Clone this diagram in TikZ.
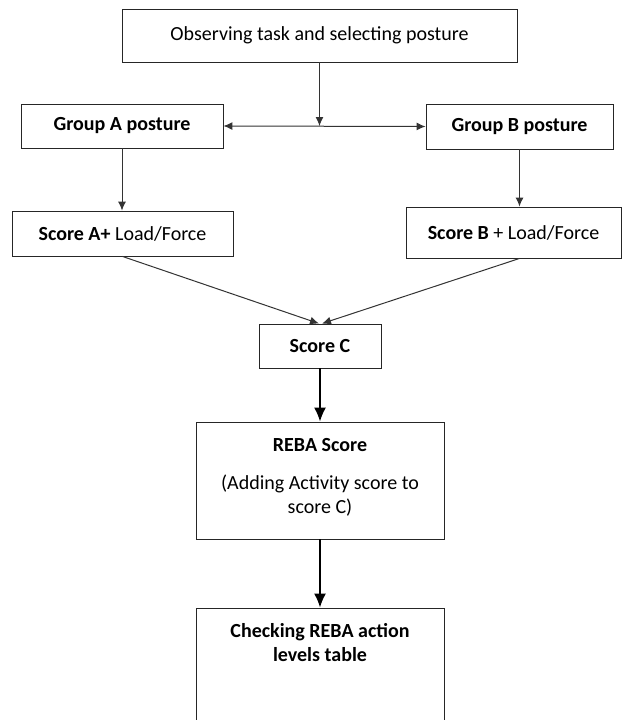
\documentclass[tikz,border=0pt]{standalone}
\usepackage{fontspec}
\setmainfont{Carlito}
\usetikzlibrary{arrows.meta,positioning}

\tikzset{
  box/.style={draw=black!85, line width=0.9pt, rectangle, inner sep=0pt,
    font=\fontsize{20}{24}\selectfont},
  thinarrow/.style={draw=black!80, line width=1pt, -{Latex[length=9pt,width=8pt]}},
  thickarrow/.style={draw=black, line width=1.5pt, -{Latex[length=14pt,width=12pt]}},
  boxtext/.style={align=center, inner sep=0pt, font=\fontsize{20}{24}\selectfont}
}

\begin{document}
\begin{tikzpicture}[x=1pt,y=-1pt]

\clip (0,0) rectangle (622,720);
\fill[white] (0,0) rectangle (622,720);

% boxes
\node[box, minimum width=395pt, minimum height=53pt] (task) at (319.5,35.5) {Observing task and selecting posture};
\node[box, minimum width=202pt, minimum height=44pt] (grpA) at (122,126) {\textbf{Group A posture}};
\node[box, minimum width=187pt, minimum height=45pt] (grpB) at (519.5,126.5) {\textbf{Group B posture}};
\node[box, minimum width=221pt, minimum height=45pt] (scoreA) at (122.5,233.5) {\textbf{Score A+} Load/Force};
\node[box, minimum width=215pt, minimum height=51pt] (scoreB) at (513.5,232.5) {\textbf{Score B} + Load/Force};
\node[box, minimum width=122pt, minimum height=44pt] (scoreC) at (320,346) {\textbf{Score C}};
\node[box, minimum width=248pt, minimum height=117pt] (reba) at (320,480.5) {};
\node[box, minimum width=248pt, minimum height=132pt] (check) at (320,674) {};

\node[boxtext, below=17pt of reba.north] (rebatxt) {\textbf{REBA Score}\\[14pt] (Adding Activity score to\\ score C)};
\node[boxtext, below=16pt of check.north] (checktxt) {\textbf{Checking REBA action}\\ \textbf{levels table}};

% connectors
\coordinate (split) at (task.south |- grpA.east);
\draw[thinarrow] (task.south) -- (split);
\draw[draw=black!80, line width=1pt, {Latex[length=9pt,width=8pt]}-{Latex[length=9pt,width=8pt]}] (grpA.east) -- (grpB.west);
\draw[thinarrow] (grpA.south) -- (grpA.south |- scoreA.north);
\draw[thinarrow] (grpB.south) -- (grpB.south |- scoreB.north);
\draw[thinarrow] (scoreA.south) -- ([xshift=-1pt]scoreC.north);
\draw[thinarrow] (grpB.south |- scoreB.south) -- ([xshift=2pt]scoreC.north);
\draw[thickarrow] (scoreC.south) -- (reba.north);
\draw[thickarrow] (reba.south) -- (check.north);

\end{tikzpicture}
\end{document}
